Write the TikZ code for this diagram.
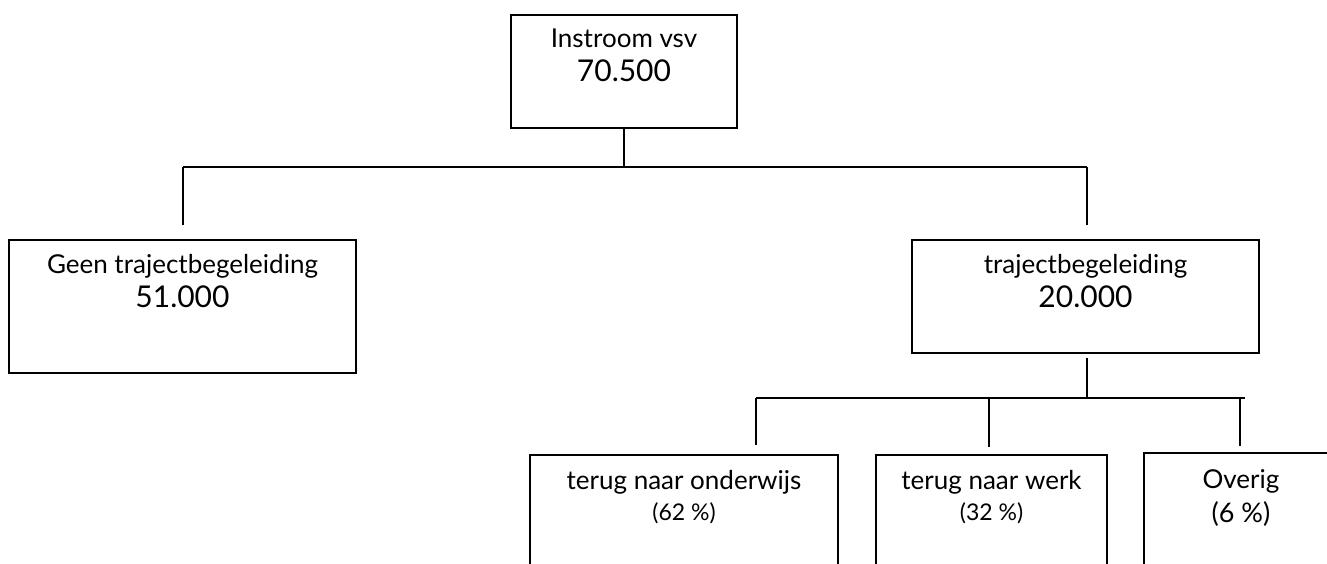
\documentclass[tikz,border=0pt]{standalone}
\usepackage{fontspec}
\setmainfont{Lato}
\usetikzlibrary{positioning}
\newcommand\amount[1]{{\fontsize{30}{35}\selectfont #1}}
\newcommand\share[1]{{\fontsize{23}{31}\selectfont #1}}
\tikzset{
  box/.style={draw,line width=1.4pt,inner sep=0pt},
  txt/.style={align=center,inner sep=0pt,font=\fontsize{26}{34}\selectfont},
  lowtxt/.style={align=center,inner sep=0pt,font=\fontsize{26}{31}\selectfont}
}
\begin{document}
\begin{tikzpicture}[x=1pt,y=-1pt,line width=1.4pt]
  \clip (0,0) rectangle (1327,564);
  \node[box,minimum width=226pt,minimum height=113pt] (instroom) at (624,71.5) {};
  \node[box,minimum width=347pt,minimum height=133pt] (geen) at (182.5,306.5) {};
  \node[box,minimum width=347pt,minimum height=113pt] (traject) at (1085.5,296.5) {};
  \node[box,minimum width=308pt,minimum height=160pt] (onderwijs) at (684,535) {};
  \node[box,minimum width=231pt,minimum height=160pt] (werk) at (991.5,535) {};
  \node[box,minimum width=194pt,minimum height=160pt] (overig) at (1241,533) {};
  % teksten
  \node[txt,below=14pt of instroom.north] (instroomtxt) {Instroom vsv\\\amount{70.500}};
  \node[txt,below=14pt of geen.north] (geentxt) {Geen trajectbegeleiding\\\amount{51.000}};
  \node[txt,below=14pt of traject.north] (trajecttxt) {trajectbegeleiding\\\amount{20.000}};
  \node[lowtxt,below=15pt of onderwijs.north] (onderwijstxt) {terug naar onderwijs\\\share{(62 \%)}};
  \node[lowtxt,below=15pt of werk.north] (werktxt) {terug naar werk\\\share{(32 \%)}};
  \node[txt,below=17pt of overig.north] (overigtxt) {Overig\\{\fontsize{27}{34}\selectfont(6 \%)}};
  % lijnen
  \coordinate (bus1) at (624,167);
  \coordinate (bus1l) at (183,167);
  \coordinate (bus1r) at (1087,167);
  \coordinate (end1l) at (183,225);
  \coordinate (end1r) at (1087,225);
  \draw (instroom.south) -- (bus1);
  \draw (bus1l) -- (bus1r);
  \draw (bus1l) -- (end1l);
  \draw (bus1r) -- (end1r);
  \coordinate (start2) at (1087,358);
  \coordinate (bus2) at (1087,398);
  \coordinate (bus2l) at (756,398);
  \coordinate (bus2m) at (989,398);
  \coordinate (bus2r) at (1240,398);
  \coordinate (bus2e) at (1245,398);
  \coordinate (end2l) at (756,445);
  \coordinate (end2m) at (989,447);
  \coordinate (end2r) at (1240,446);
  \draw (start2) -- (bus2);
  \draw (bus2l) -- (bus2e);
  \draw (bus2l) -- (end2l);
  \draw (bus2m) -- (end2m);
  \draw (bus2r) -- (end2r);
\end{tikzpicture}
\end{document}
